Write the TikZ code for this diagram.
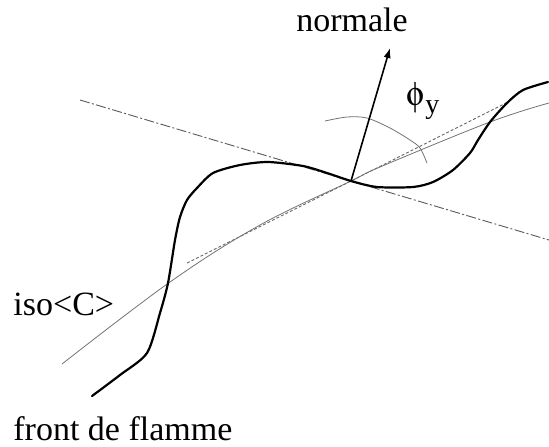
\documentclass[tikz,border=0pt]{standalone}
\usepackage[Symbol]{upgreek}
\usepackage{fontspec}
\setmainfont{Liberation Serif}
\usetikzlibrary{arrows.meta}

\begin{document}
\begin{tikzpicture}[
  x=0.5pt, y=-0.5pt,
  font=\fontsize{17}{20}\selectfont,
  >={Latex[length=5pt,width=3.6pt]},
  front/.style={line width=1.1pt, black, line join=round, line cap=round},
  iso/.style={line width=0.4pt, black!55},
  dashdot/.style={line width=0.45pt, black!65, dash pattern=on 5pt off 1.2pt on 1pt off 1.2pt},
  finedash/.style={line width=0.45pt, black!60, dash pattern=on 1.5pt off 1pt},
  txt/.style={inner sep=0pt, anchor=base west}
]
\useasboundingbox (0,0) rectangle (549,446);

% contact point and normal tip
\coordinate (P) at (351,181);
\coordinate (tip) at (390,48);

% tangent to the flame front
\coordinate (t1) at (80,100);
\coordinate (t2) at (549,240);
\draw[dashdot] (t1) -- (P) -- (t2);

% tangent to iso<C>
\coordinate (c1) at (187,263);
\coordinate (c2) at (508,102);
\draw[finedash] (c1) -- (P) -- (c2);

% iso<C>
\draw[iso] plot[smooth, tension=0.6] coordinates
  {(62,364) (170,282) (260,225) (351,181) (380,167) (490,122) (549,103)};

% flame front
\draw[front] plot[smooth, tension=0.45] coordinates
  {(92,396) (120,375) (147,353) (160,313) (168,283) (175,240) (180,217)
   (187,200) (197,188) (213,173) (240,165) (268,162) (303,166) (327,173)
   (351,181) (377,187) (413,187) (433,182) (453,170) (470,153) (478,140)
   (490,122) (507,103) (523,90) (548,82)};

% angle arc
\draw[iso] plot[smooth] coordinates
  {(325,121) (347,117) (367,118) (390,128) (410,140) (420,148) (427,163)};

% normal
\draw[->, line width=0.8pt] (P) -- (tip);

% labels
\node[txt, anchor=base] (normale) at (352,31) {normale};
\node[txt] (phi) at (406,105)
  {$\upphi$\kern0.04em\raisebox{-0.24em}{\fontsize{14}{16}\selectfont y}};
\node[txt] (iso) at (13,315) {iso<C>};
\node[txt] (front) at (13,440) {front de flamme};
\end{tikzpicture}
\end{document}
